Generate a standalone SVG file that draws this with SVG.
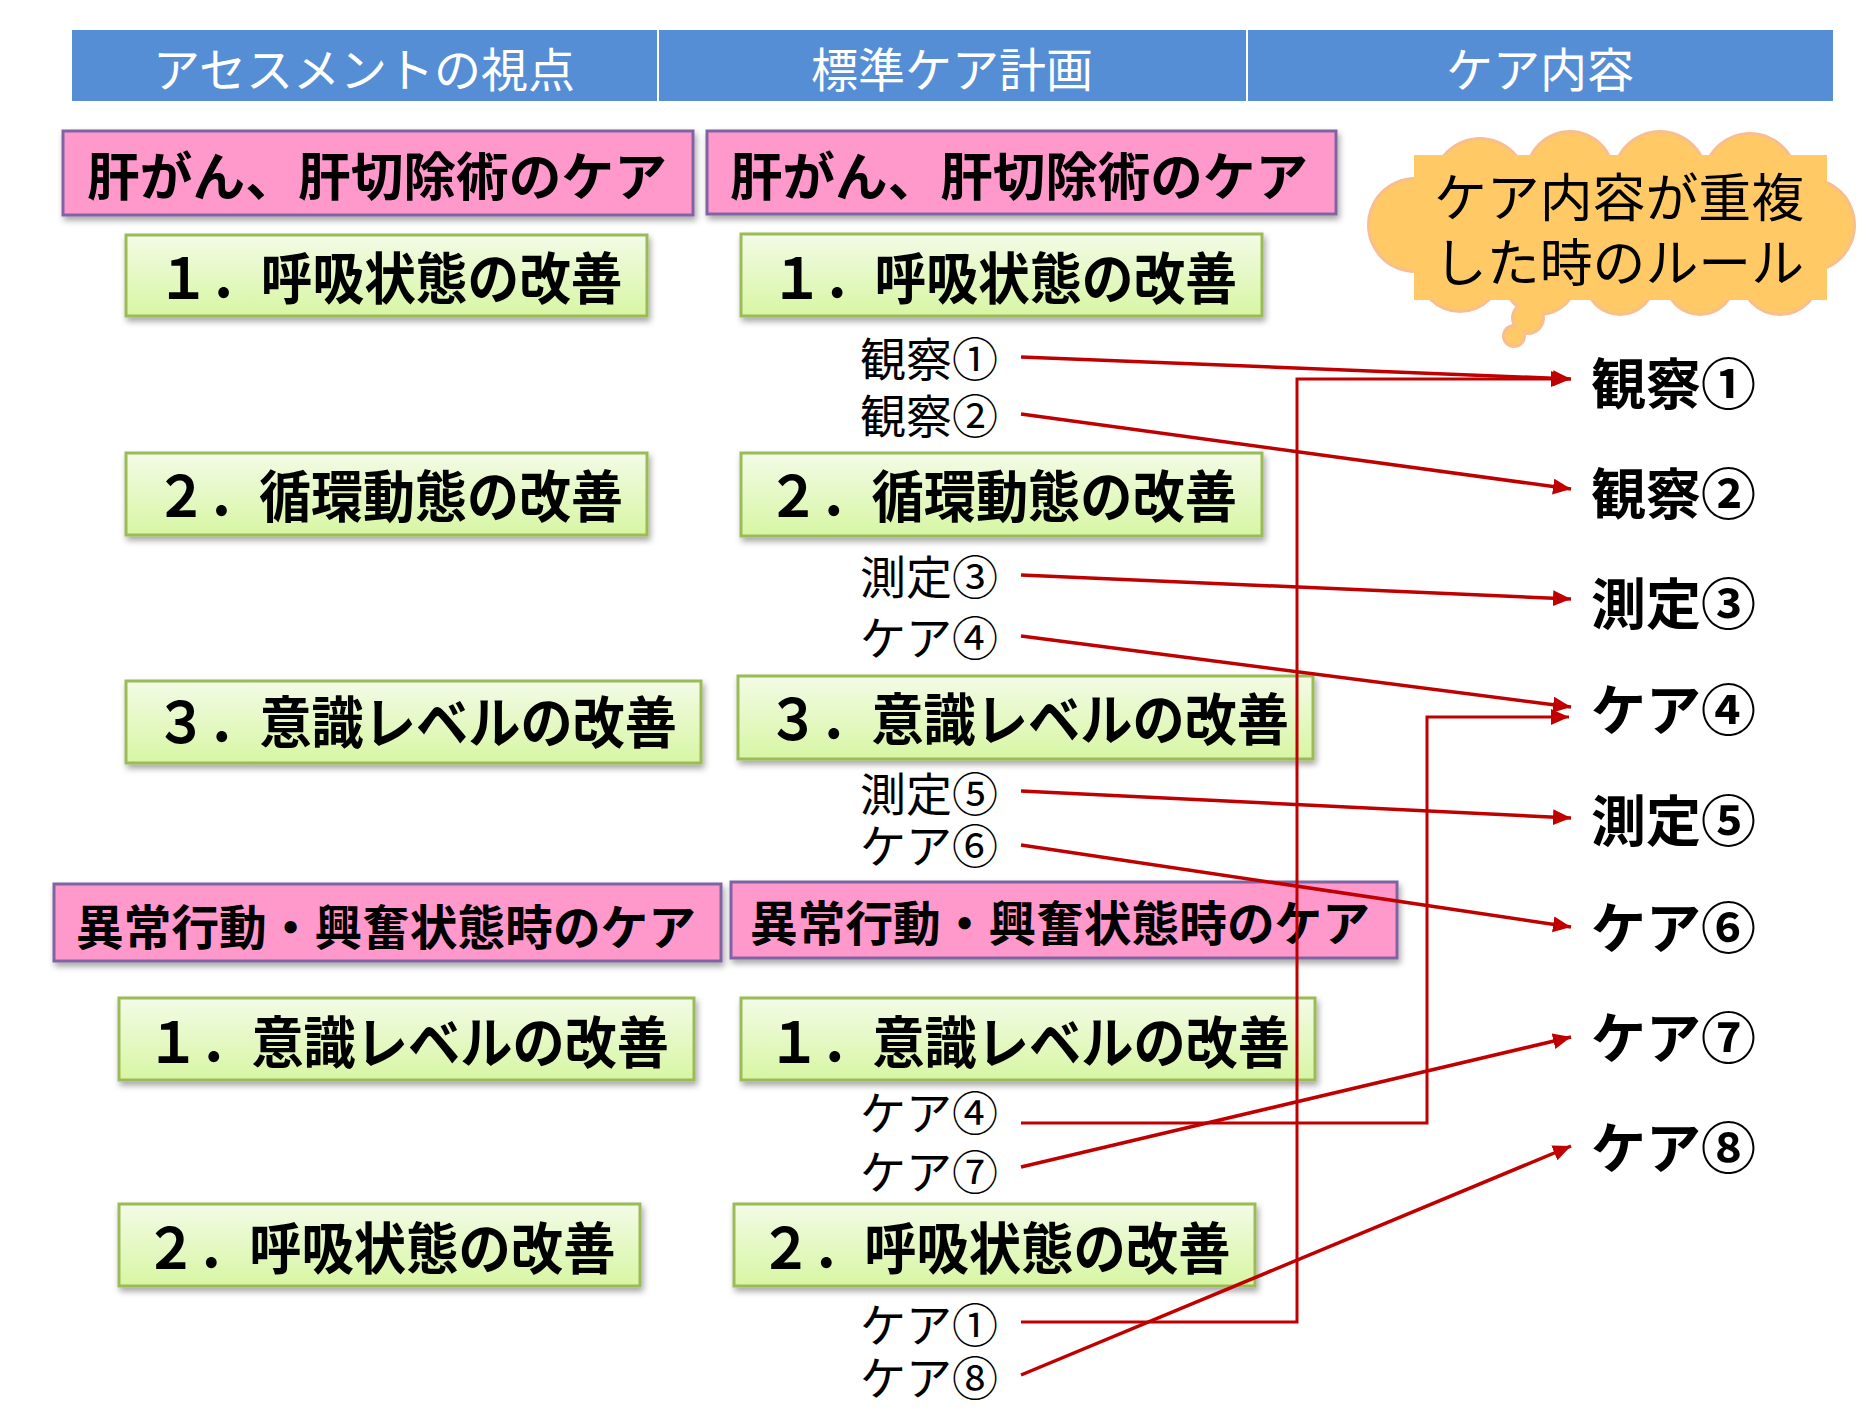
<svg xmlns="http://www.w3.org/2000/svg" width="1869" height="1411" viewBox="0 0 1869 1411">
<defs>
<style>
.jp{font-family:"Noto Sans CJK JP","Noto Sans CJK SC",sans-serif;}
.hdr{fill:#558ED5;}
.htx{fill:#FFFFFF;font-size:47px;text-anchor:middle;}
.pink{fill:#FF99CC;stroke:#8064A2;stroke-width:3;filter:url(#sh);}
.green{fill:url(#gg);stroke:#9BBB59;stroke-width:3;filter:url(#sh);}
.btx{fill:#000;font-size:56px;font-weight:bold;text-anchor:middle;}
.ptx{fill:#000;font-size:52px;font-weight:bold;text-anchor:middle;}
.ptx2{fill:#000;font-size:48px;font-weight:bold;text-anchor:middle;}
.mid{fill:#000;font-size:46px;}
.rgt{fill:#000;font-size:55px;font-weight:bold;}
.ctx{fill:#000;font-size:52px;}
.arr{fill:none;stroke:#C00000;stroke-width:3.5;marker-end:url(#ah);}
.elb{fill:none;stroke:#C00000;stroke-width:3;}
.cs{fill:#F9BE8F;}
.cf{fill:#FFC966;}
</style>
<linearGradient id="gg" x1="0" y1="0" x2="0" y2="1">
<stop offset="0" stop-color="#F3FBE6"/>
<stop offset="1" stop-color="#D7F6A3"/>
</linearGradient>
<filter id="sh" x="-10%" y="-20%" width="120%" height="150%">
<feDropShadow dx="2" dy="4" stdDeviation="3" flood-color="#000" flood-opacity="0.35"/>
</filter>
<marker id="ah" markerUnits="userSpaceOnUse" markerWidth="20" markerHeight="18" refX="18" refY="8" orient="auto">
<path d="M0,0 L18,8 L0,16 z" fill="#C00000"/>
</marker>
</defs>

<g id="header">
<rect class="hdr" x="72" y="30" width="585" height="71"/>
<rect class="hdr" x="659" y="30" width="587" height="71"/>
<rect class="hdr" x="1248" y="30" width="585" height="71"/>
<text class="jp htx" x="364" y="87">アセスメントの視点</text>
<text class="jp htx" x="952" y="87">標準ケア計画</text>
<text class="jp htx" x="1540" y="87">ケア内容</text>
</g>

<g id="callout">
<g class="cs">
<circle cx="1415" cy="225" r="48"/>
<circle cx="1480" cy="185" r="48"/>
<circle cx="1570" cy="175" r="45"/>
<circle cx="1660" cy="178" r="48"/>
<circle cx="1750" cy="180" r="48"/>
<circle cx="1808" cy="225" r="48"/>
<circle cx="1780" cy="275" r="41"/>
<circle cx="1700" cy="280" r="36"/>
<circle cx="1620" cy="280" r="36"/>
<circle cx="1540" cy="278" r="38"/>
<circle cx="1460" cy="270" r="43"/>
<circle cx="1528" cy="318" r="17"/>
<circle cx="1514" cy="336" r="12"/>
</g>
<g class="cf">
<circle cx="1415" cy="225" r="45"/>
<circle cx="1480" cy="185" r="45"/>
<circle cx="1570" cy="175" r="42"/>
<circle cx="1660" cy="178" r="45"/>
<circle cx="1750" cy="180" r="45"/>
<circle cx="1808" cy="225" r="45"/>
<circle cx="1780" cy="275" r="38"/>
<circle cx="1700" cy="280" r="33"/>
<circle cx="1620" cy="280" r="33"/>
<circle cx="1540" cy="278" r="35"/>
<circle cx="1460" cy="270" r="40"/>
<ellipse cx="1611" cy="228" rx="200" ry="70"/>
<circle cx="1528" cy="318" r="14"/>
<circle cx="1514" cy="336" r="9"/>
<rect x="1414" y="155" width="413" height="145"/>
</g>
<text class="jp ctx" x="1434" y="217" textLength="370" lengthAdjust="spacingAndGlyphs">ケア内容が重複</text>
<text class="jp ctx" x="1434" y="282" textLength="370" lengthAdjust="spacingAndGlyphs">した時のルール</text>
</g>

<g id="p1l"><rect class="pink" x="63" y="131" width="630" height="84"/><text class="jp ptx" x="377" y="196" textLength="580" lengthAdjust="spacingAndGlyphs">肝がん、肝切除術のケア</text></g>
<g id="p1r"><rect class="pink" x="707" y="131" width="629" height="83"/><text class="jp ptx" x="1019" y="196" textLength="578" lengthAdjust="spacingAndGlyphs">肝がん、肝切除術のケア</text></g>

<g id="g1l"><rect class="green" x="126" y="235" width="521" height="81"/><text class="jp btx" x="390" y="299" textLength="465" lengthAdjust="spacingAndGlyphs">１．呼吸状態の改善</text></g>
<g id="g1r"><rect class="green" x="741" y="234" width="521" height="82"/><text class="jp btx" x="1004" y="299" textLength="466" lengthAdjust="spacingAndGlyphs">１．呼吸状態の改善</text></g>
<g id="g2l"><rect class="green" x="126" y="453" width="521" height="82"/><text class="jp btx" x="389" y="517" textLength="468" lengthAdjust="spacingAndGlyphs">２．循環動態の改善</text></g>
<g id="g2r"><rect class="green" x="741" y="453" width="521" height="83"/><text class="jp btx" x="1002" y="517" textLength="470" lengthAdjust="spacingAndGlyphs">２．循環動態の改善</text></g>
<g id="g3l"><rect class="green" x="126" y="681" width="575" height="82"/><text class="jp btx" x="416" y="743" textLength="522" lengthAdjust="spacingAndGlyphs">３．意識レベルの改善</text></g>
<g id="g3r"><rect class="green" x="738" y="676" width="575" height="83"/><text class="jp btx" x="1028" y="740" textLength="522" lengthAdjust="spacingAndGlyphs">３．意識レベルの改善</text></g>

<g id="p2l"><rect class="pink" x="54" y="884" width="667" height="77"/><text class="jp ptx2" x="386" y="945" textLength="620" lengthAdjust="spacingAndGlyphs">異常行動・興奮状態時のケア</text></g>
<g id="p2r"><rect class="pink" x="731" y="882" width="666" height="76"/><text class="jp ptx2" x="1060" y="941" textLength="620" lengthAdjust="spacingAndGlyphs">異常行動・興奮状態時のケア</text></g>

<g id="g4l"><rect class="green" x="119" y="998" width="575" height="82"/><text class="jp btx" x="408" y="1063" textLength="522" lengthAdjust="spacingAndGlyphs">１．意識レベルの改善</text></g>
<g id="g4r"><rect class="green" x="741" y="998" width="574" height="82"/><text class="jp btx" x="1029" y="1063" textLength="522" lengthAdjust="spacingAndGlyphs">１．意識レベルの改善</text></g>
<g id="g5l"><rect class="green" x="119" y="1204" width="521" height="82"/><text class="jp btx" x="380" y="1269" textLength="471" lengthAdjust="spacingAndGlyphs">２．呼吸状態の改善</text></g>
<g id="g5r"><rect class="green" x="734" y="1204" width="521" height="82"/><text class="jp btx" x="995" y="1269" textLength="471" lengthAdjust="spacingAndGlyphs">２．呼吸状態の改善</text></g>

<g id="plan-items">
<text class="jp mid" x="860" y="376">観察①</text>
<text class="jp mid" x="860" y="433">観察②</text>
<text class="jp mid" x="860" y="594">測定③</text>
<text class="jp mid" x="860" y="655">ケア④</text>
<text class="jp mid" x="860" y="811">測定⑤</text>
<text class="jp mid" x="860" y="863">ケア⑥</text>
<text class="jp mid" x="860" y="1130">ケア④</text>
<text class="jp mid" x="860" y="1189">ケア⑦</text>
<text class="jp mid" x="860" y="1342">ケア①</text>
<text class="jp mid" x="860" y="1395">ケア⑧</text>
</g>

<g id="care-items">
<text class="jp rgt" x="1591" y="404">観察①</text>
<text class="jp rgt" x="1591" y="514">観察②</text>
<text class="jp rgt" x="1591" y="624">測定③</text>
<text class="jp rgt" x="1591" y="730">ケア④</text>
<text class="jp rgt" x="1591" y="841">測定⑤</text>
<text class="jp rgt" x="1591" y="948">ケア⑥</text>
<text class="jp rgt" x="1591" y="1058">ケア⑦</text>
<text class="jp rgt" x="1591" y="1168">ケア⑧</text>
</g>

<g id="connectors">
<line class="arr" x1="1021" y1="357" x2="1571" y2="379"/>
<line class="arr" x1="1021" y1="414" x2="1571" y2="489"/>
<line class="arr" x1="1021" y1="575" x2="1571" y2="599"/>
<line class="arr" x1="1021" y1="636" x2="1571" y2="707"/>
<line class="arr" x1="1021" y1="791" x2="1571" y2="818"/>
<line class="arr" x1="1021" y1="845" x2="1571" y2="927"/>
<line class="arr" x1="1021" y1="1167" x2="1571" y2="1037"/>
<line class="arr" x1="1021" y1="1375" x2="1571" y2="1146"/>
<polyline class="elb" points="1021,1322 1297,1322 1297,379 1569,379" style="marker-end:url(#ah)"/>
<polyline class="elb" points="1021,1123 1427,1123 1427,717 1569,717" style="marker-end:url(#ah)"/>
</g>
</svg>
